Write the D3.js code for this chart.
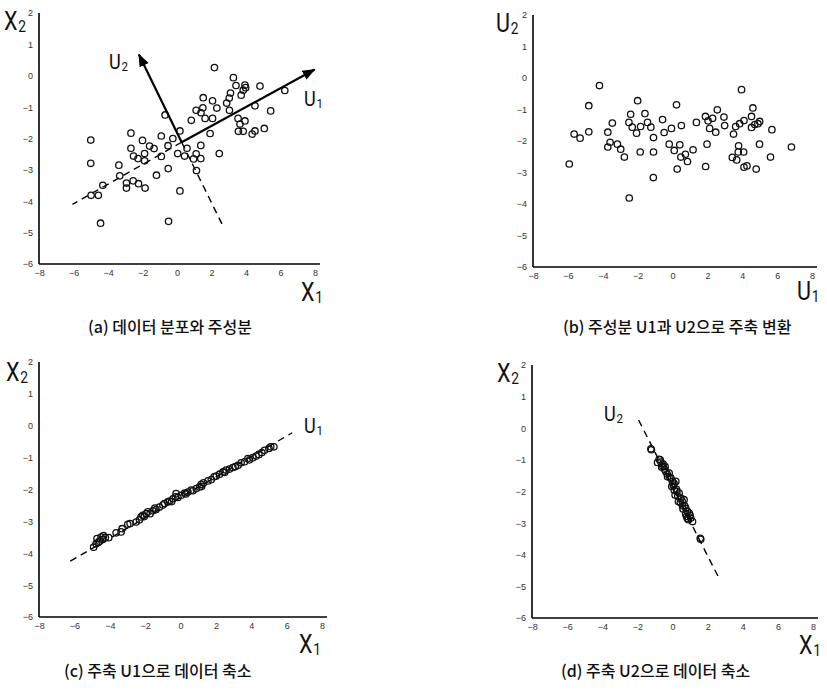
<!DOCTYPE html>
<html><head><meta charset="utf-8">
<script src="https://cdn.jsdelivr.net/npm/d3@7"></script>
<style>body{margin:0;background:#fff}</style>
</head><body>
<svg id="chart" width="827" height="693"></svg>
<script>
// ---------- data ----------
const ticksX = [-8,-6,-4,-2,0,2,4,6,8];
const ticksY = [2,1,0,-1,-2,-3,-4,-5,-6];

// (a) original data X1, X2
const aX1 = [2.17,3.27,3.42,3.94,3.98,3.84,3.72,4.81,6.25,3.10,3.03,2.88,3.04,1.52,2.06,1.50,2.31,1.11,1.39,1.63,2.06,0.83,-0.69,4.52,5.43,3.54,3.94,3.65,3.56,3.84,4.52,4.36,5.06,1.92,0.17,-0.24,-0.91,-0.52,0.58,0.04,0.44,1.38,1.11,1.38,0.96,2.45,1.13,-0.51,0.17,-0.49,-0.91,-1.19,-1.33,-1.59,-2.00,-1.88,-1.88,-2.26,-2.67,-2.67,-2.52,-3.37,-3.32,-2.93,-2.93,-2.54,-2.23,-1.85,-4.30,-4.56,-4.98,-5.00,-5.00,-4.43];
const aX2 = [0.26,-0.06,-0.31,-0.30,-0.38,-0.46,-0.62,-0.33,-0.47,-0.55,-0.71,-0.87,-1.10,-0.70,-0.80,-1.02,-1.03,-1.10,-1.18,-1.36,-1.36,-1.42,-1.25,-0.96,-1.12,-1.36,-1.44,-1.54,-1.77,-1.77,-1.76,-1.86,-1.68,-1.84,-1.76,-2.00,-1.92,-2.23,-2.31,-2.48,-2.56,-2.22,-2.49,-2.64,-2.65,-2.48,-3.02,-2.96,-3.67,-4.64,-2.57,-3.17,-2.32,-2.24,-2.06,-2.48,-2.71,-2.64,-1.83,-2.31,-2.56,-2.85,-3.19,-3.42,-3.58,-3.35,-3.44,-3.58,-3.49,-3.81,-3.81,-2.05,-2.79,-4.70];
// principal axes drawn in (a): origin, U1 tip, U2 tip, U1 dashed end, U2 dashed end
const axisOrigin = [0.27,-2.12];
const u1Tip = [7.98,0.20];
const u2Tip = [-2.21,0.68];
const u1DashEnd = [-6.06,-4.10];
const u2DashEnd = [2.65,-4.77];

// (b) data in U1, U2 coordinates
const bU1 = [-4.19,3.96,-4.80,-2.00,0.23,2.57,4.61,-2.40,-1.58,-0.57,-2.50,-1.43,-3.45,-2.31,-1.83,-1.24,-2.06,-3.71,-4.80,-5.64,-5.30,-0.48,-0.06,0.51,1.37,1.89,2.04,2.30,2.13,2.48,2.95,2.99,3.50,3.62,3.85,4.10,4.53,4.53,4.72,4.90,5.00,5.70,-1.09,-0.19,0.42,0.10,1.18,1.98,3.79,3.77,4.08,4.99,6.82,-3.71,-3.58,-3.16,-2.97,-2.76,-1.85,-1.09,0.48,0.74,0.86,3.43,3.68,4.10,4.27,4.80,5.62,1.90,0.27,-5.92,-1.10,-2.48];
const bU2 = [-0.24,-0.37,-0.88,-0.72,-0.85,-1.01,-0.95,-1.15,-1.13,-1.32,-1.41,-1.41,-1.43,-1.56,-1.54,-1.56,-1.75,-1.72,-1.71,-1.78,-1.91,-1.73,-1.60,-1.51,-1.41,-1.22,-1.36,-1.28,-1.60,-1.72,-1.24,-1.51,-1.78,-1.54,-1.45,-1.35,-1.22,-1.57,-1.48,-1.45,-1.38,-1.64,-1.89,-2.10,-2.12,-2.30,-2.28,-2.10,-2.15,-2.35,-2.35,-2.10,-2.19,-2.19,-2.04,-2.10,-2.26,-2.51,-2.35,-2.35,-2.51,-2.42,-2.65,-2.52,-2.60,-2.83,-2.79,-2.89,-2.51,-2.81,-2.89,-2.73,-3.16,-3.81];

// (c) data reduced onto U1
const cX1 = [-4.91,-4.77,-4.72,-4.65,-4.58,-4.49,-4.40,-4.35,-4.25,-4.06,-3.64,-3.36,-3.30,-2.98,-2.85,-2.51,-2.32,-2.23,-2.13,-2.05,-1.94,-1.85,-1.72,-1.57,-1.45,-1.38,-1.19,-1.00,-0.91,-0.72,-0.62,-0.50,-0.43,-0.28,-0.25,-0.15,0.04,0.23,0.30,0.42,0.60,0.70,0.89,1.08,1.17,1.20,1.30,1.55,1.74,1.90,2.02,2.21,2.40,2.50,2.58,2.77,2.96,3.10,3.25,3.43,3.62,3.81,3.90,4.09,4.28,4.43,4.60,4.75,5.00,5.10,5.28];
const cX2 = [-3.81,-3.70,-3.54,-3.66,-3.62,-3.49,-3.57,-3.45,-3.51,-3.51,-3.36,-3.33,-3.23,-3.09,-3.07,-3.02,-2.95,-2.86,-2.81,-2.85,-2.76,-2.70,-2.76,-2.67,-2.58,-2.63,-2.55,-2.49,-2.44,-2.39,-2.36,-2.38,-2.29,-2.23,-2.13,-2.25,-2.18,-2.11,-2.14,-2.08,-2.02,-2.04,-1.97,-1.92,-1.84,-1.90,-1.79,-1.73,-1.69,-1.60,-1.58,-1.52,-1.45,-1.46,-1.39,-1.36,-1.31,-1.28,-1.24,-1.16,-1.13,-1.03,-1.07,-1.00,-0.95,-0.90,-0.84,-0.77,-0.71,-0.66,-0.66];
const cLine = [[-6.23,-4.25],[6.32,-0.22]];

// (d) data reduced onto U2
const dX1 = [-1.23,-1.20,-0.76,-0.70,-0.66,-0.85,-0.53,-0.55,-0.42,-0.61,-0.45,-0.38,-0.30,-0.19,-0.28,-0.15,-0.09,0.00,0.05,0.09,0.19,-0.04,0.10,0.23,0.25,0.38,0.15,0.30,0.47,0.34,0.45,0.66,0.55,0.57,0.60,0.70,0.76,0.75,0.85,0.95,0.80,1.00,1.04,0.85,1.14,0.91,1.58,1.61];
const dX2 = [-0.65,-0.68,-0.98,-1.00,-1.07,-1.08,-1.13,-1.20,-1.21,-1.23,-1.30,-1.37,-1.45,-1.42,-1.53,-1.55,-1.58,-1.68,-1.80,-1.74,-1.68,-1.84,-1.95,-1.93,-2.00,-2.05,-2.11,-2.15,-2.21,-2.32,-2.35,-2.26,-2.30,-2.45,-2.55,-2.45,-2.53,-2.70,-2.63,-2.68,-2.79,-2.75,-2.84,-2.85,-2.95,-2.89,-3.48,-3.51];
const dLine = [[-1.93,0.26],[2.59,-4.68]];

const captions = ["(a) 데이터 분포와 주성분","(b) 주성분 U1과 U2으로 주축 변환","(c) 주축 U1으로 데이터 축소","(d) 주축 U2으로 데이터 축소"];

// ---------- layout ----------
const svg = d3.select("#chart");
svg.append("rect").attr("width",827).attr("height",693).attr("fill","#fff");

const defs = svg.append("defs");
defs.append("marker").attr("id","arr")
  .attr("markerUnits","userSpaceOnUse")
  .attr("markerWidth",14).attr("markerHeight",12)
  .attr("refX",12).attr("refY",5).attr("orient","auto")
  .append("path").attr("d","M0,0 L13,5 L0,10 Z").attr("fill","#000");

const panels = [
  {xr:[39,315], yr:[264,13], cap:[88,333], lab:{
     yl:{t:"X",s:"2",x:4,y:30,fs:25}, xl:{t:"X",s:"1",x:301,y:301,fs:25}}},
  {xr:[533,812], yr:[267,15], cap:[563,333], lab:{
     yl:{t:"U",s:"2",x:496,y:32,fs:25}, xl:{t:"U",s:"1",x:797,y:300,fs:25}}},
  {xr:[39,322], yr:[617,362], cap:[64,677], lab:{
     yl:{t:"X",s:"2",x:6,y:381,fs:25}, xl:{t:"X",s:"1",x:299,y:653,fs:25}}},
  {xr:[532,813], yr:[618,365], cap:[561,677], lab:{
     yl:{t:"X",s:"2",x:497,y:382,fs:25}, xl:{t:"X",s:"1",x:799,y:654,fs:25}}}
];

const LABEL_FONT = "Roboto,'Liberation Sans',sans-serif";

function subLabel(g, o){
  const t = g.append("text").attr("transform",`translate(${o.x},${o.y}) scale(0.86,1)`)
    .attr("font-family",LABEL_FONT).attr("font-weight",400)
    .attr("font-size",o.fs).attr("fill","#111");
  t.append("tspan").text(o.t);
  t.append("tspan").attr("font-size",o.fs*0.64).attr("dy",2).attr("dx",1).text(o.s);
}

function drawPanel(p, i){
  const x = d3.scaleLinear().domain([-8,8]).range(p.xr);
  const y = d3.scaleLinear().domain([-6,2]).range(p.yr);
  const g = svg.append("g");

  const ax = g.append("g").attr("transform",`translate(0,${y(-6)})`)
    .call(d3.axisBottom(x).tickValues(ticksX).tickSize(0).tickPadding(6));
  const ay = g.append("g").attr("transform",`translate(${x(-8)},0)`)
    .call(d3.axisLeft(y).tickValues(ticksY).tickSize(0).tickPadding(6));
  [ax,ay].forEach(a=>{
    a.select(".domain").remove();
    a.selectAll("text").attr("font-family","'Liberation Sans',Arial,sans-serif")
      .attr("font-size",9).attr("fill","#333");
  });
  // axis lines
  g.append("line").attr("x1",x(-8)).attr("x2",x(8)+5).attr("y1",y(-6)).attr("y2",y(-6))
    .attr("stroke","#000").attr("stroke-width",1.6);
  g.append("line").attr("x1",x(-8)).attr("x2",x(-8)).attr("y1",y(2)).attr("y2",y(-6))
    .attr("stroke","#000").attr("stroke-width",1.6);

  subLabel(g, p.lab.yl);
  subLabel(g, p.lab.xl);

  g.append("text").attr("x",p.cap[0]).attr("y",p.cap[1])
    .attr("font-family","'Noto Sans CJK KR',sans-serif").attr("font-size",16)
    .attr("font-weight",500).attr("fill","#111").text(captions[i]);
  return {g,x,y};
}

function dots(g,x,y,xs,ys){
  g.append("g").selectAll("circle").data(xs.map((v,k)=>[v,ys[k]])).join("circle")
    .attr("cx",d=>x(d[0])).attr("cy",d=>y(d[1])).attr("r",3.2)
    .attr("fill","none").attr("stroke","#111").attr("stroke-width",1.3);
}
function seg(g,x,y,a,b,dashed,arrow){
  const l = g.append("line").attr("x1",x(a[0])).attr("y1",y(a[1]))
    .attr("x2",x(b[0])).attr("y2",y(b[1])).attr("stroke","#000");
  if(dashed) l.attr("stroke-width",1.4).attr("stroke-dasharray","7,5");
  else l.attr("stroke-width",2.2);
  if(arrow) l.attr("marker-end","url(#arr)");
}

// (a)
{
  const {g,x,y} = drawPanel(panels[0],0);
  seg(g,x,y,axisOrigin,u1DashEnd,true,false);
  seg(g,x,y,axisOrigin,u2DashEnd,true,false);
  dots(g,x,y,aX1,aX2);
  seg(g,x,y,axisOrigin,u1Tip,false,true);
  seg(g,x,y,axisOrigin,u2Tip,false,true);
  subLabel(g,{t:"U",s:"1",x:304,y:106,fs:21});
  subLabel(g,{t:"U",s:"2",x:109,y:69,fs:21});
}
// (b)
{
  const {g,x,y} = drawPanel(panels[1],1);
  dots(g,x,y,bU1,bU2);
}
// (c)
{
  const {g,x,y} = drawPanel(panels[2],2);
  seg(g,x,y,cLine[0],cLine[1],true,false);
  dots(g,x,y,cX1,cX2);
  subLabel(g,{t:"U",s:"1",x:304,y:433,fs:21});
}
// (d)
{
  const {g,x,y} = drawPanel(panels[3],3);
  seg(g,x,y,dLine[0],dLine[1],true,false);
  dots(g,x,y,dX1,dX2);
  subLabel(g,{t:"U",s:"2",x:604,y:421,fs:21});
}
</script>
</body></html>
